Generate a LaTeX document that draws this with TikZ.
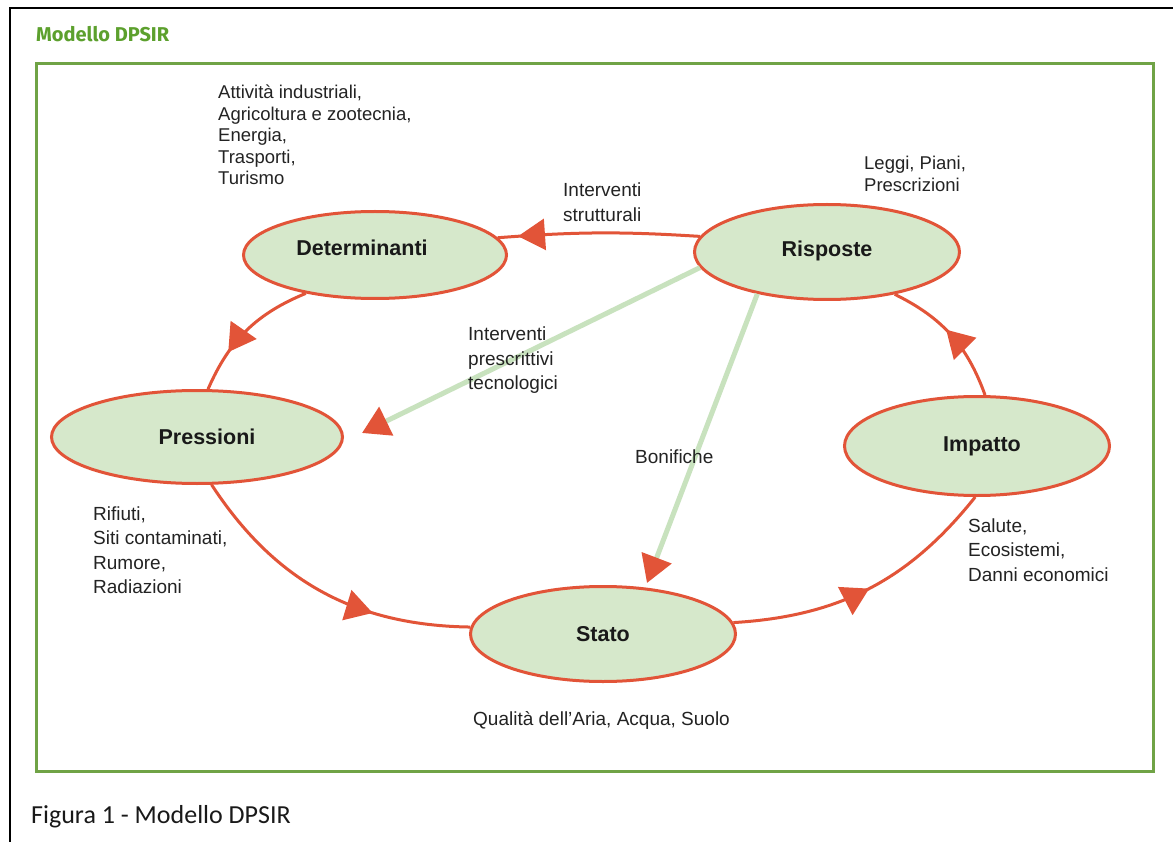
\documentclass[tikz,border=0pt]{standalone}
\usepackage{fontspec}
\setmainfont{Liberation Sans}
\newfontfamily\titlefont{Fira Sans}
\newfontfamily\capfont{Carlito}
\usetikzlibrary{shapes.geometric,arrows.meta,decorations.markings}
\definecolor{myred}{RGB}{226,84,56}
\definecolor{ellfill}{RGB}{214,232,203}
\definecolor{lgreen}{RGB}{200,226,190}
\definecolor{framegreen}{RGB}{112,163,70}
\definecolor{titlegreen}{RGB}{92,160,45}
\definecolor{txtgray}{RGB}{35,35,35}
\newcommand\txtblock[1]{\begin{tabular}[t]{@{}l@{}}#1\end{tabular}}
\tikzset{
  ell/.style={ellipse, draw=myred, line width=3pt, fill=ellfill, inner sep=0pt,
    font=\fontsize{21.5}{24}\selectfont\bfseries, text=black!90},
  cyc/.style={draw=myred, line width=3pt},
  midarrow/.style={decoration={markings, mark=at position #1 with {\arrow{Triangle[length=27pt,width=31pt]}}}, postaction={decorate}},
  gline/.style={draw=lgreen, line width=5pt, -{Triangle[length=27pt,width=31pt,color=myred,fill=myred]}},
  lbl/.style={anchor=base west, inner sep=0pt, font=\fontsize{19}{24.5}\selectfont, text=txtgray},
  lbltight/.style={lbl, font=\fontsize{18.5}{21.5}\selectfont},
}
\begin{document}
\begin{tikzpicture}[x=1pt,y=-1pt]
\useasboundingbox (0,0) rectangle (1173,842);
\fill[white] (0,0) rectangle (1173,842);
% outer black border (top and left)
\draw[line width=2pt, black] (10,842) -- (10,8) -- (1173,8);
% title
\node[anchor=base west, inner sep=0pt, font=\titlefont\bfseries\fontsize{20}{24}\selectfont, text=titlegreen] (title) at (36,42) {Modello DPSIR};
% green frame
\draw[line width=3pt, framegreen] (36,64) rectangle (1153,771);
% caption
\node[anchor=base west, inner sep=0pt, font=\capfont\fontsize{26}{30}\selectfont, text=black!90] (caption) at (31,823) {Figura 1 - Modello DPSIR};

% ellipses
\node[ell, minimum width=263pt, minimum height=87pt, text depth=14pt] (D) at (375,255) {Determinanti\hspace*{26pt}};
\node[ell, minimum width=265pt, minimum height=95pt, text depth=6pt] (R) at (827,252) {Risposte};
\node[ell, minimum width=291pt, minimum height=93pt] (P) at (197,437) {\hspace*{20pt}Pressioni};
\node[ell, minimum width=265pt, minimum height=99pt] (I) at (977,446) {\hspace*{10pt}Impatto};
\node[ell, minimum width=265pt, minimum height=95pt] (S) at (603,634) {Stato};

% cycle connectors
\draw[cyc, midarrow=0.9] (R.173) to[bend right=4] (D.8);
\draw[cyc, midarrow=0.7] (D.209) to[bend right=22] (P.77);
\draw[cyc, midarrow=0.68] (P.287) to[bend right=28] (S.177);
\draw[cyc, midarrow=0.5] (S.5) to[bend right=24] (I.268);
\draw[cyc, midarrow=0.55] (I.81) to[bend right=22] (R.328);

% green connectors
\coordinate (tipP) at (362,433);
\coordinate (tipS) at (647,583);
\draw[gline] (R.187) -- (tipP);
\draw[gline] (R.211) -- (tipS);

% text labels
\node[lbltight] (tD) at (218,99) {\txtblock{Attività industriali,\\Agricoltura e zootecnia,\\Energia,\\Trasporti,\\Turismo}};
\node[lbl] (tRD) at (563,197) {\txtblock{Interventi\\strutturali}};
\node[lbltight] (tR) at (864,170) {\txtblock{Leggi, Piani,\\Prescrizioni}};
\node[lbl] (tRP) at (468,341) {\txtblock{Interventi\\prescrittivi\\tecnologici}};
\node[lbl] (tRS) at (635,463) {Bonifiche};
\node[lbl] (tP) at (93,520) {\txtblock{Rifiuti,\\Siti contaminati,\\Rumore,\\Radiazioni}};
\node[lbl] (tI) at (968,532) {\txtblock{Salute,\\Ecosistemi,\\Danni economici}};
\node[lbl] (tS) at (473,725) {Qualità dell'Aria, Acqua, Suolo};
\end{tikzpicture}
\end{document}
